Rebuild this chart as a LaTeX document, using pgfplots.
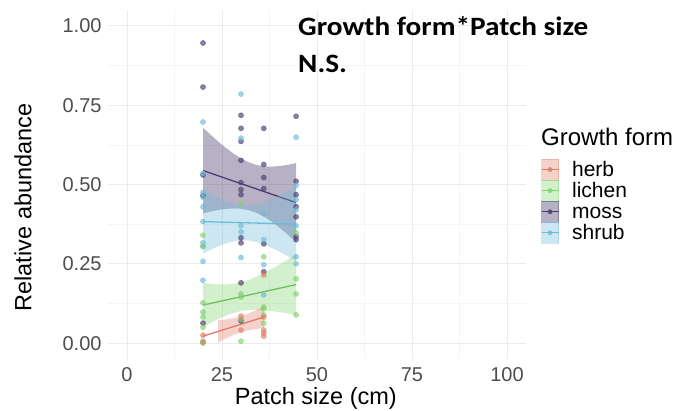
\documentclass[border=0pt]{standalone}
\usepackage{pgfplots}
\pgfplotsset{compat=1.18}
\usepackage{fontspec}
\setmainfont{Liberation Sans}
\newfontfamily\carlito{Carlito}
\definecolor{herbc}{HTML}{E07A67}
\definecolor{lichenc}{HTML}{7ED36B}
\definecolor{mossc}{HTML}{4B3B6E}
\definecolor{shrubc}{HTML}{6DBBD8}
\definecolor{tickc}{HTML}{4D4D4D}
\newcommand\ls{\rule[-4.4pt]{0pt}{19.7pt}}
\begin{document}
\begin{tikzpicture}
\useasboundingbox (0,0) rectangle (675pt,410pt);
\begin{axis}[
  at={(108pt,51pt)}, anchor=south west,
  scale only axis, width=418pt, height=349pt,
  xmin=-5, xmax=105, ymin=-0.05, ymax=1.05,
  xtick={0,25,50,75,100}, minor xtick={12.5,37.5,62.5,87.5},
  ytick={0,0.25,0.5,0.75,1}, minor ytick={0.125,0.375,0.625,0.875},
  grid=both,
  major grid style={draw=black!8, line width=0.9pt},
  minor grid style={draw=black!4, line width=0.5pt},
  axis line style={draw=none}, major tick length=0pt, minor tick length=0pt,
  /pgf/number format/assume math mode=true,
  ticklabel style={font=\fontsize{20}{20}\selectfont, text=tickc},
  yticklabel style={anchor=east, inner sep=0pt, xshift=-6.3pt,
    /pgf/number format/.cd, fixed, fixed zerofill, precision=2},
  xticklabel style={anchor=north, inner sep=0pt, yshift=-8.7pt},
  legend style={at={(1.0359,0.5731)}, anchor=north west, draw=none, fill=none,
    inner sep=0pt, outer sep=0pt, row sep=0pt, column sep=13pt,
    font=\fontsize{21}{21}\selectfont, cells={anchor=west},
    nodes={inner sep=0pt, outer sep=0pt}},
  pts/.style={only marks, mark=*, mark size=2.6pt, color=#1, opacity=0.65, forget plot},
]
% ---------------- points ----------------
\addplot[pts=mossc] coordinates {
(20,0.946) (20,0.807) (20,0.53) (20,0.465) (20,0.063)
(30,0.718) (30,0.677) (30,0.636) (30,0.576) (30,0.506) (30,0.484) (30,0.468) (30,0.332) (30,0.316) (30,0.19) (30,0.07)
(36,0.677) (36,0.563) (36,0.522) (36,0.487) (36,0.313) (36,0.225)
(44.5,0.715) (44.5,0.51) (44.5,0.468) (44.5,0.43) (44.5,0.398) (44.5,0.336) (44.5,0.326)
};
\addplot[pts=shrubc] coordinates {
(20,0.697) (20,0.535) (20,0.475) (20,0.46) (20,0.43) (20,0.383) (20,0.316) (20,0.305) (20,0.258) (20,0.198)
(30,0.785) (30,0.646) (30,0.37) (30,0.351) (30,0.27)
(36,0.408) (36,0.326) (36,0.247) (36,0.152)
(44.5,0.649) (44.5,0.497) (44.5,0.452) (44.5,0.42) (44.5,0.37) (44.5,0.272) (44.5,0.25)
};
\addplot[pts=lichenc] coordinates {
(20,0.34) (20,0.305) (20,0.127) (20,0.098) (20,0.083) (20,0.05) (20,0.006) (20,0.0)
(30,0.44) (30,0.155) (30,0.145) (30,0.075) (30,0.006)
(36,0.272) (36,0.114) (36,0.108) (36,0.089) (36,0.063)
(44.5,0.348) (44.5,0.203) (44.5,0.155) (44.5,0.089)
};
\addplot[pts=herbc] coordinates {
(20,0.025) (20,0.003)
(30,0.085) (30,0.041)
(36,0.215) (36,0.082) (36,0.041) (36,0.032) (36,0.022)
};
% ---------------- smooths ----------------
\addplot[draw=none, fill=herbc, fill opacity=0.35, forget plot] coordinates {
(24,0.072) (26,0.0744) (28,0.0783) (30,0.0845) (32,0.0933) (34,0.1044) (36,0.117)
(36,0.047) (34,0.0446) (32,0.0407) (30,0.0345) (28,0.0257) (26,0.0146) (24,0.002)} -- cycle;
\addplot[herbc, line width=1.3pt, forget plot] coordinates {(20,0.022) (36,0.082)};
\addplot[draw=none, fill=lichenc, fill opacity=0.35, forget plot] coordinates {
(20,0.19) (22,0.1871) (24,0.1852) (26,0.185) (28,0.1868) (30,0.1913) (32,0.1988) (34,0.2085) (36,0.2202) (38,0.2331) (40,0.247) (42,0.2616) (44.5,0.2804)
(44.5,0.0886) (42,0.0942) (40,0.0982) (38,0.1015) (36,0.104) (34,0.1051) (32,0.1044) (30,0.1013) (28,0.0952) (26,0.0866) (24,0.0758) (22,0.0635) (20,0.05)} -- cycle;
\addplot[lichenc!90!black, line width=1.3pt, forget plot] coordinates {(20,0.12) (44.5,0.1845)};
\addplot[draw=none, fill=mossc, fill opacity=0.4, forget plot] coordinates {
(20,0.679) (22,0.6568) (24,0.6355) (26,0.6156) (28,0.5975) (30,0.5821) (32,0.5701) (34,0.5618) (36,0.5574) (38,0.5563) (40,0.5579) (42,0.5614) (44.5,0.5675)
(44.5,0.3185) (42,0.3454) (40,0.3653) (38,0.3833) (36,0.3988) (34,0.4108) (32,0.4191) (30,0.4235) (28,0.4245) (26,0.423) (24,0.4195) (22,0.4148) (20,0.409)} -- cycle;
\addplot[mossc, line width=1.3pt, forget plot] coordinates {(20,0.544) (44.5,0.443)};
\addplot[draw=none, fill=shrubc, fill opacity=0.35, forget plot] coordinates {
(20,0.483) (22,0.47) (24,0.4582) (26,0.4478) (28,0.4398) (30,0.4352) (32,0.4345) (34,0.4379) (36,0.4445) (38,0.4536) (40,0.4641) (42,0.4758) (44.5,0.4913)
(44.5,0.2587) (42,0.2758) (40,0.2887) (38,0.3006) (36,0.3109) (34,0.3189) (32,0.3235) (30,0.3242) (28,0.3208) (26,0.3142) (24,0.3052) (22,0.2946) (20,0.283)} -- cycle;
\addplot[shrubc, line width=1.3pt, forget plot] coordinates {(20,0.383) (44.5,0.375)};
% ---------------- legend ----------------
\addlegendimage{legend image code/.code={
  \fill[herbc, opacity=0.35] (0pt,-10.35pt) rectangle (17pt,10.35pt);
  \draw[herbc, line width=1.1pt] (0pt,0pt) -- (17pt,0pt);
  \fill[herbc, opacity=0.8] (8.5pt,0pt) circle (2.2pt);}}
\addlegendimage{legend image code/.code={
  \fill[lichenc, opacity=0.35] (0pt,-10.35pt) rectangle (17pt,10.35pt);
  \draw[lichenc, line width=1.1pt] (0pt,0pt) -- (17pt,0pt);
  \fill[lichenc, opacity=0.8] (8.5pt,0pt) circle (2.2pt);}}
\addlegendimage{legend image code/.code={
  \fill[mossc, opacity=0.4] (0pt,-10.35pt) rectangle (17pt,10.35pt);
  \draw[mossc, line width=1.1pt] (0pt,0pt) -- (17pt,0pt);
  \fill[mossc, opacity=0.8] (8.5pt,0pt) circle (2.2pt);}}
\addlegendimage{legend image code/.code={
  \fill[shrubc, opacity=0.35] (0pt,-10.35pt) rectangle (17pt,10.35pt);
  \draw[shrubc, line width=1.1pt] (0pt,0pt) -- (17pt,0pt);
  \fill[shrubc, opacity=0.8] (8.5pt,0pt) circle (2.2pt);}}
\legend{\ls herb, \ls lichen, \ls moss, \ls shrub}
\end{axis}
% titles and labels
\node[anchor=base west, inner sep=0pt, xscale=1.104, font=\carlito\bfseries\fontsize{26.5}{26.5}\selectfont] at (298pt,374.3pt) {Growth form*Patch size};
\node[anchor=base west, inner sep=0pt, xscale=1.104, font=\carlito\bfseries\fontsize{26.5}{26.5}\selectfont] at (298pt,337.7pt) {N.S.};
\node[anchor=base, inner sep=0pt, font=\fontsize{23.5}{23.5}\selectfont] at (315.8pt,5.7pt) {Patch size (cm)};
\node[anchor=base, rotate=90, inner sep=0pt, font=\fontsize{23.5}{23.5}\selectfont] at (31.5pt,202.5pt) {Relative abundance};
\node[anchor=base west, inner sep=0pt, font=\fontsize{24}{24}\selectfont] at (541pt,264pt) {Growth form};
\end{tikzpicture}
\end{document}
